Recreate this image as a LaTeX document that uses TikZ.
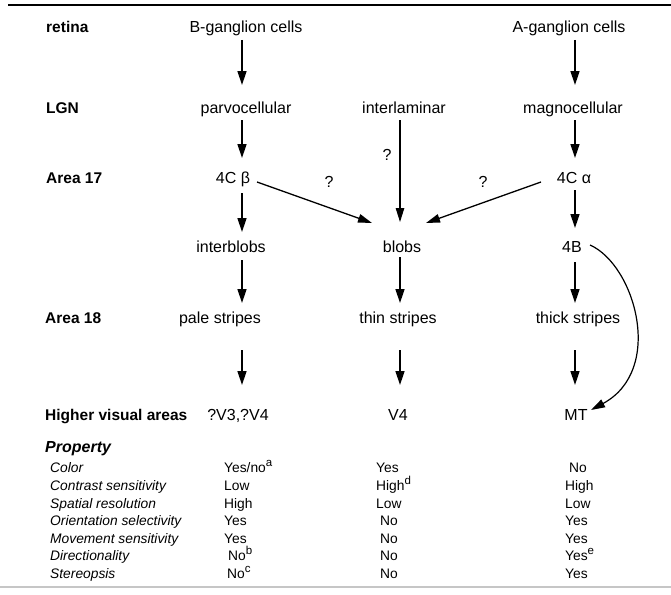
\documentclass[tikz,border=0pt]{standalone}
\usepackage{fontspec}
\setmainfont{Liberation Sans}
\usetikzlibrary{arrows.meta}
% raised footnote letter in the property table
\newcommand\fnmark[1]{\raisebox{0.42em}{\fontsize{11.5}{12}\selectfont #1}}
\begin{document}
\begin{tikzpicture}[x=1pt,y=-1pt,
  lab/.style={font=\fontsize{16}{18}\selectfont, inner sep=0pt, text height=11.5pt, text depth=0pt, anchor=center},
  rowlab/.style={font=\bfseries\fontsize{15.5}{18}\selectfont, inner sep=0pt, text height=11pt, text depth=0pt, anchor=west},
  proplab/.style={font=\itshape\fontsize{13.8}{16}\selectfont, inner sep=0pt, text height=10pt, text depth=0pt, anchor=west},
  val/.style={font=\fontsize{13.8}{16}\selectfont, inner sep=0pt, text height=10pt, text depth=0pt, anchor=west},
  arr/.style={line width=1.5pt, -{Triangle[length=14pt,width=9pt]}},
  darr/.style={line width=1.3pt, -{Triangle[length=14pt,width=8.5pt]}},
  ]
\useasboundingbox (0,0) rectangle (671,594);

% rules above and below
\draw[line width=2.4pt] (8,5) -- (671,5);
\draw[line width=2pt, gray!45] (0,587) -- (671,587);

% arrow columns
\coordinate (c1) at (242,0);
\coordinate (c2) at (400,0);
\coordinate (c3) at (575,0);

% row labels
\node[rowlab] (rRet) at (46,27) {retina};
\node[rowlab] (rLGN) at (46,108) {LGN};
\node[rowlab] (r17) at (46,178) {Area 17};
\node[rowlab] (r18) at (45,318) {Area 18};
\node[rowlab] (rHigh) at (45,415) {Higher visual areas};

% pathway stages
\node[lab] (bg) at (246,27) {B-ganglion cells};
\node[lab] (ag) at (569,27) {A-ganglion cells};
\node[lab] (parvo) at (246,108) {parvocellular};
\node[lab] (inter) at (404,108) {interlaminar};
\node[lab] (magno) at (573,108) {magnocellular};
\node[lab] (cb) at (233,178) {4C β};
\node[lab] (ca) at (574,178) {4C α};
\node[lab] (iblobs) at (231,247) {interblobs};
\node[lab] (blobs) at (402,247) {blobs};
\node[lab] (fourB) at (572,247) {4B};
\node[lab] (pale) at (220,318) {pale stripes};
\node[lab] (thin) at (398,318) {thin stripes};
\node[lab] (thick) at (578,318) {thick stripes};
\node[lab] (v3) at (238,415) {?V3,?V4};
\node[lab] (v4) at (398,415) {V4};
\node[lab] (mt) at (576,415) {MT};

% uncertain projections
\node[lab] (q1) at (387,155) {?};
\node[lab] (q2) at (329,182) {?};
\node[lab] (q3) at (483,182) {?};

% parvocellular stream
\draw[arr, shorten <=13pt, shorten >=23pt] (bg.center -| c1) -- (parvo.center -| c1);
\draw[arr, shorten <=12pt, shorten >=20pt] (parvo.center -| c1) -- (cb.center -| c1);
\draw[arr, shorten <=15pt, shorten >=15pt] (cb.center -| c1) -- (iblobs.center -| c1);
\draw[arr, shorten <=13pt, shorten >=15pt] (iblobs.center -| c1) -- (pale.center -| c1);
\draw[arr, shorten <=32pt, shorten >=30pt] (pale.center -| c1) -- (v3.center -| c1);

% blob stream
\draw[line width=1.1pt, -{Triangle[length=14pt,width=8.5pt]}, shorten <=12pt, shorten >=25pt] (inter.center -| c2) -- (blobs.center -| c2);
\draw[arr, shorten <=10pt, shorten >=15pt] (blobs.center -| c2) -- (thin.center -| c2);
\draw[arr, shorten <=32pt, shorten >=30pt] (thin.center -| c2) -- (v4.center -| c2);
\draw[darr] ([shift={(24,4)}]cb.center) -- ([shift={(-30,-24)}]blobs.center);
\draw[darr] ([shift={(-33,4)}]ca.center) -- ([shift={(24,-24)}]blobs.center);

% magnocellular stream
\draw[arr, shorten <=13pt, shorten >=23pt] (ag.center -| c3) -- (magno.center -| c3);
\draw[arr, shorten <=12pt, shorten >=20pt] (magno.center -| c3) -- (ca.center -| c3);
\draw[arr, shorten <=12pt, shorten >=19pt] (ca.center -| c3) -- (fourB.center -| c3);
\draw[arr, shorten <=15pt, shorten >=15pt] (fourB.center -| c3) -- (thick.center -| c3);
\draw[arr, shorten <=32pt, shorten >=30pt] (thick.center -| c3) -- (mt.center -| c3);
\draw[line width=1.2pt, -{Triangle[length=14pt,width=8.5pt]}]
  ([shift={(18,-2)}]fourB.center) .. controls (635,265) and (665,370) .. ([shift={(15,-5)}]mt.center);

% property table
\node[anchor=west, inner sep=0pt, text height=11.5pt, text depth=0pt,
      font=\bfseries\itshape\fontsize{16}{18}\selectfont] (prop) at (45,447) {Property};

\node[proplab] (pColor) at (50,467) {Color};
\node[proplab] (pContr) at (50,485) {Contrast sensitivity};
\node[proplab] (pSpat) at (50,503) {Spatial resolution};
\node[proplab] (pOri) at (50,520.5) {Orientation selectivity};
\node[proplab] (pMov) at (50,538) {Movement sensitivity};
\node[proplab] (pDir) at (50,555.5) {Directionality};
\node[proplab] (pSter) at (50,573) {Stereopsis};

\node[val] (a1) at (224,467) {Yes/no\fnmark{a}};
\node[val] (a2) at (224,485) {Low};
\node[val] (a3) at (224,503) {High};
\node[val] (a4) at (224,520.5) {Yes};
\node[val] (a5) at (224,538) {Yes};
\node[val] (a6) at (228,555.5) {No\fnmark{b}};
\node[val] (a7) at (227,573) {No\fnmark{c}};

\node[val] (b1) at (376,467) {Yes};
\node[val] (b2) at (376,485) {High\fnmark{d}};
\node[val] (b3) at (376,503) {Low};
\node[val] (b4) at (380,520.5) {No};
\node[val] (b5) at (380,538) {No};
\node[val] (b6) at (380,555.5) {No};
\node[val] (b7) at (380,573) {No};

\node[val] (d1) at (569,467) {No};
\node[val] (d2) at (565,485) {High};
\node[val] (d3) at (565,503) {Low};
\node[val] (d4) at (565,520.5) {Yes};
\node[val] (d5) at (565,538) {Yes};
\node[val] (d6) at (565,555.5) {Yes\fnmark{e}};
\node[val] (d7) at (565,573) {Yes};
\end{tikzpicture}
\end{document}
